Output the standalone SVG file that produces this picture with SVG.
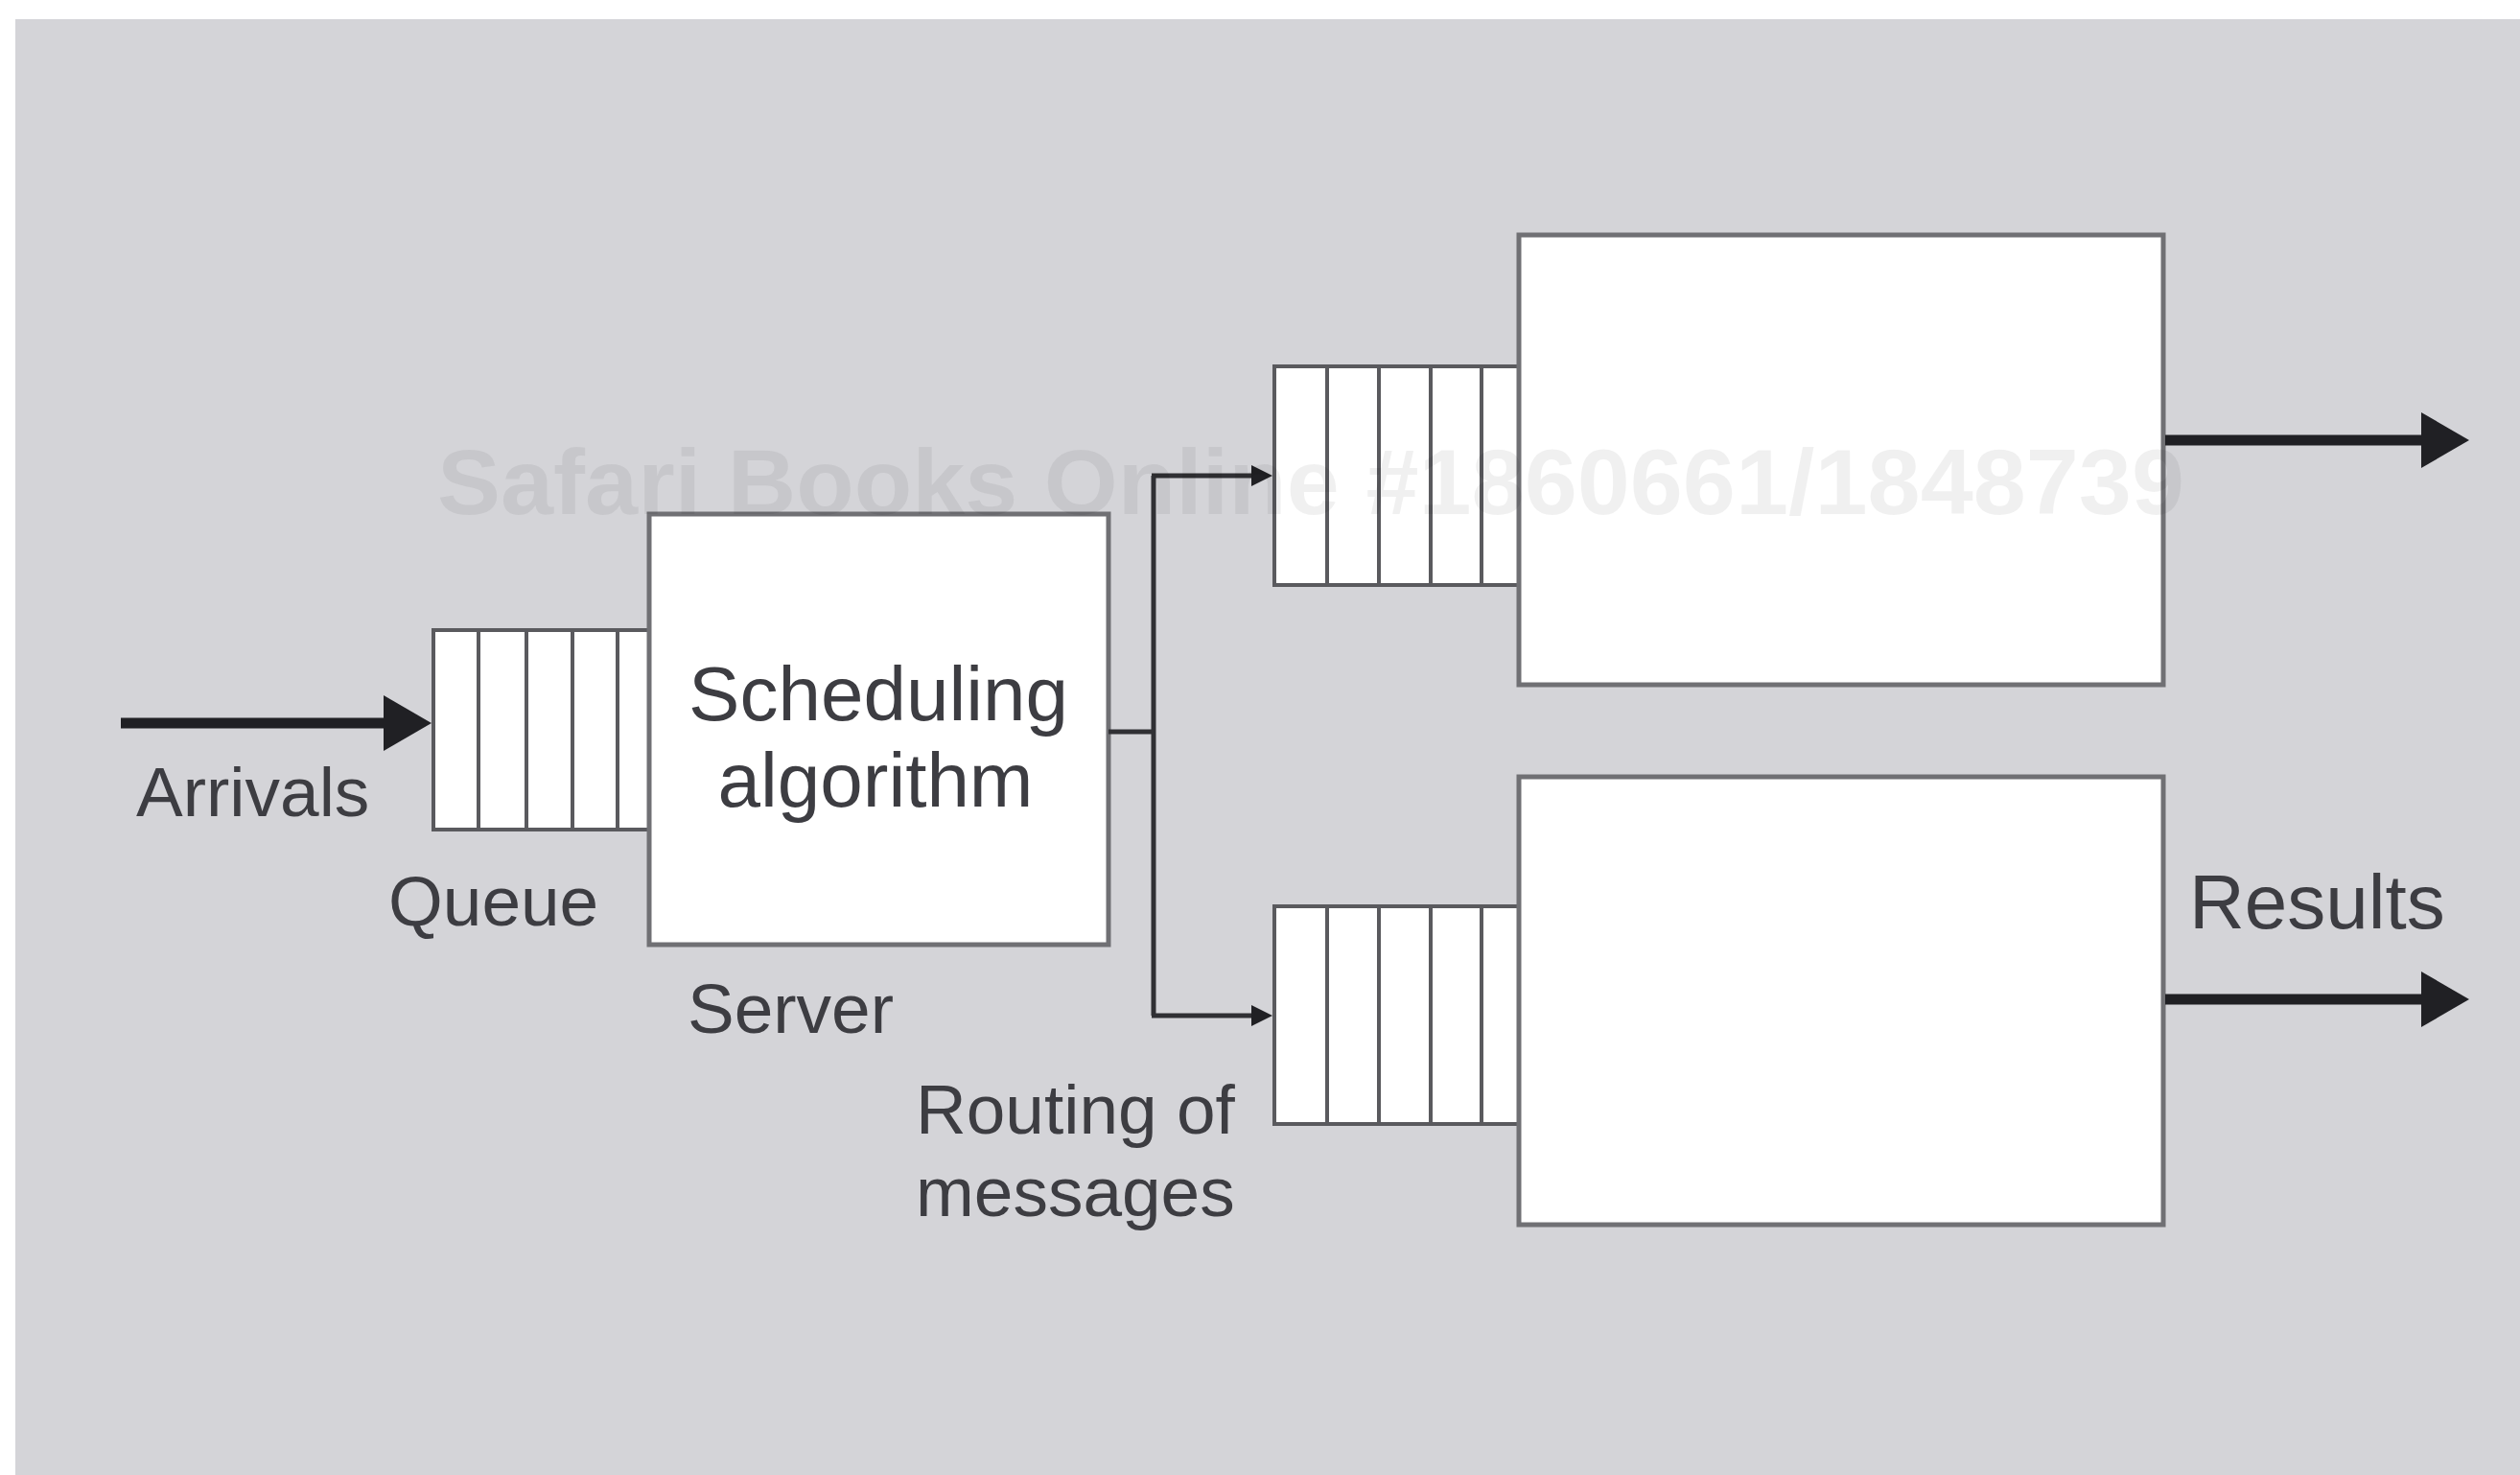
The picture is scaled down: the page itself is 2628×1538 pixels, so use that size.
<svg xmlns="http://www.w3.org/2000/svg" width="2628" height="1538" viewBox="0 0 2628 1538">
<style>
.lbl{font-family:"Liberation Sans",Arial,sans-serif;fill:#3d3d42;}
.box{fill:#ffffff;stroke:#707074;stroke-width:5;}
.q{fill:#ffffff;stroke:#5a5a5e;stroke-width:4;}
.div{stroke:#5a5a5e;stroke-width:4;}
.thick{stroke:#202024;stroke-width:11;fill:none;}
.thin{stroke:#303034;stroke-width:5;fill:none;}
</style>
<defs>
<marker id="big" markerUnits="userSpaceOnUse" markerWidth="52" markerHeight="58" refX="1" refY="29" orient="auto">
<polygon points="0,0 50,29 0,58" fill="#202024"/>
</marker>
<marker id="small" markerUnits="userSpaceOnUse" markerWidth="24" markerHeight="22" refX="1" refY="11" orient="auto">
<polygon points="0,0 22,11 0,22" fill="#202024"/>
</marker>
</defs>
<rect x="0" y="0" width="2628" height="1538" fill="#ffffff"/>
<rect x="16" y="20" width="2612" height="1518" fill="#d4d4d8"/>

<g id="queue-main">
<rect class="q" x="452" y="657" width="225" height="208"/>
<line class="div" x1="499" y1="657" x2="499" y2="865"/>
<line class="div" x1="549" y1="657" x2="549" y2="865"/>
<line class="div" x1="597" y1="657" x2="597" y2="865"/>
<line class="div" x1="644" y1="657" x2="644" y2="865"/>
</g>

<g id="server">
<rect class="box" x="677" y="536" width="479" height="449"/>
<text class="lbl" x="916" y="751" font-size="80" text-anchor="middle">Scheduling</text>
<text class="lbl" x="913" y="841" font-size="80" text-anchor="middle">algorithm</text>
</g>

<g id="queue-upper">
<rect class="q" x="1329" y="382" width="255" height="228"/>
<line class="div" x1="1384" y1="382" x2="1384" y2="610"/>
<line class="div" x1="1438" y1="382" x2="1438" y2="610"/>
<line class="div" x1="1492" y1="382" x2="1492" y2="610"/>
<line class="div" x1="1545" y1="382" x2="1545" y2="610"/>
</g>

<g id="processor-upper">
<rect class="box" x="1584" y="245" width="672" height="469"/>
</g>

<g id="queue-lower">
<rect class="q" x="1329" y="945" width="255" height="227"/>
<line class="div" x1="1384" y1="945" x2="1384" y2="1172"/>
<line class="div" x1="1438" y1="945" x2="1438" y2="1172"/>
<line class="div" x1="1492" y1="945" x2="1492" y2="1172"/>
<line class="div" x1="1545" y1="945" x2="1545" y2="1172"/>
</g>

<g id="processor-lower">
<rect class="box" x="1584" y="810" width="672" height="467"/>
</g>

<g id="connectors">
<line class="thick" x1="126" y1="754" x2="401" y2="754" marker-end="url(#big)"/>
<polyline class="thin" points="1156,763 1203,763"/>
<polyline class="thin" points="1203,496 1203,1059"/>
<polyline class="thin" points="1201,496 1306,496" marker-end="url(#small)"/>
<polyline class="thin" points="1201,1059 1306,1059" marker-end="url(#small)"/>
<line class="thick" x1="2258" y1="459" x2="2526" y2="459" marker-end="url(#big)"/>
<line class="thick" x1="2258" y1="1042" x2="2526" y2="1042" marker-end="url(#big)"/>
</g>

<g id="labels">
<text class="lbl" x="142" y="851" font-size="73">Arrivals</text>
<text class="lbl" x="405" y="965" font-size="73">Queue</text>
<text class="lbl" x="717" y="1077" font-size="73">Server</text>
<text class="lbl" x="955" y="1182" font-size="73">Routing of</text>
<text class="lbl" x="955" y="1268" font-size="73">messages</text>
<text class="lbl" x="2283" y="968" font-size="80">Results</text>
</g>

<text x="456" y="536" font-family="Liberation Sans,Arial,sans-serif" font-weight="bold" font-size="96" fill="#000000" fill-opacity="0.06" textLength="1822" lengthAdjust="spacingAndGlyphs">Safari Books Online #1860661/1848739</text>
</svg>
